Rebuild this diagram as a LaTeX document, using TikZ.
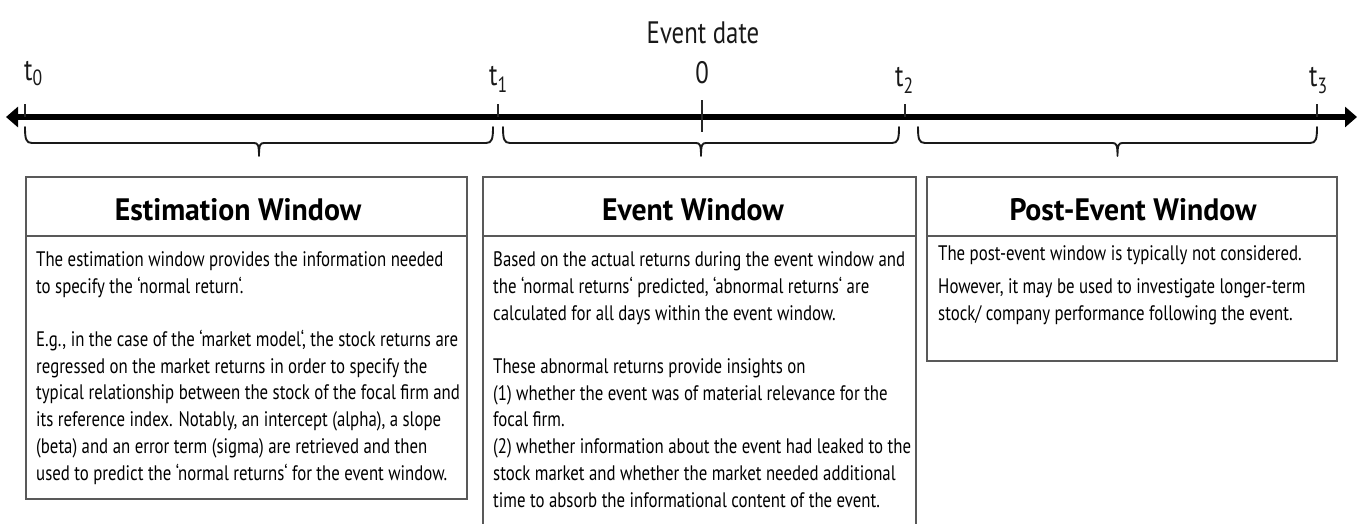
\documentclass[tikz,border=0pt]{standalone}
\usepackage{fontspec}
\setmainfont{PT Sans}[FakeStretch=0.80, BoldFeatures={FakeStretch=0.96}]
\usetikzlibrary{arrows.meta}
\newcommand{\subfnt}{\fontsize{22}{24}\selectfont}
\begin{document}
\begin{tikzpicture}[x=1pt,y=-1pt,
  lbl/.style={inner sep=0pt, anchor=base west, font=\fontsize{31}{36}\selectfont, text=black!90},
  tickmark/.style={line width=1.3pt, draw=black!85},
  brc/.style={line width=1.9pt, draw=black!90, line join=round, line cap=round},
  winbox/.style={draw=black!65, line width=1.6pt, fill=white},
  hdr/.style={inner sep=0pt, anchor=base, font=\bfseries\fontsize{31}{36}\selectfont},
  body/.style={inner sep=0pt, anchor=base west, align=left, font=\fontsize{21}{26.7}\selectfont, text=black}]
\useasboundingbox (0,0) rectangle (1363,523);
\clip (0,0) rectangle (1363,523);
% axis
\coordinate (L) at (6,117);
\coordinate (R) at (1357,117);
\coordinate (t0) at (25,117);
\coordinate (t1) at (498,117);
\coordinate (z) at (702,117);
\coordinate (t2) at (905,117);
\coordinate (t3) at (1317,117);
\draw[line width=6pt, {Triangle[length=12pt,width=20pt]}-{Triangle[length=12pt,width=20pt]}] (L) -- (R);
\draw[tickmark] (t0) -- ++(0,-13);
\draw[tickmark] (t1) -- ++(0,-13);
\draw[tickmark] (t2) -- ++(0,-13);
\draw[tickmark] (t3) -- ++(0,-13);
\draw[tickmark] ([yshift=17pt]z) -- ([yshift=-15pt]z);
% labels
\node[lbl, anchor=base] (evd) at (703,43) {Event date};
\node[lbl, anchor=base] (zl) at (702,83) {0};
\node[lbl] (l0) at (24,80) {t\raisebox{-5pt}{\subfnt 0}};
\node[lbl] (l1) at (489,85) {t\raisebox{-7pt}{\subfnt 1}};
\node[lbl] (l2) at (895,86) {t\raisebox{-7pt}{\subfnt 2}};
\node[lbl] (l3) at (1309,86) {t\raisebox{-7pt}{\subfnt 3}};
% braces
\newcommand{\mybrace}[3]{%
  \draw[brc] (#1,127) .. controls (#1,139) and (#1+1,143) .. (#1+7,143)
    -- (#2-5,143) .. controls (#2-1,143) and (#2,145) .. (#2,156)
    .. controls (#2,145) and (#2+1,143) .. (#2+5,143)
    -- (#3-7,143) .. controls (#3-1,143) and (#3,139) .. (#3,127);}
\mybrace{25}{259}{493}
\mybrace{503}{701}{899}
\mybrace{918}{1117.5}{1317}
% boxes
\node[winbox, anchor=north west, minimum width=441pt, minimum height=322pt, inner sep=0pt] (b1) at (25,176) {};
\node[winbox, anchor=north west, minimum width=433pt, minimum height=380pt, inner sep=0pt] (b2) at (482,176) {};
\node[winbox, anchor=north west, minimum width=410pt, minimum height=184pt, inner sep=0pt] (b3) at (926,176) {};
\draw[draw=black!65, line width=1.6pt] (b1.west |- 0,236) -- (b1.east |- 0,236);
\draw[draw=black!65, line width=1.6pt] (b2.west |- 0,236) -- (b2.east |- 0,236);
\draw[draw=black!65, line width=1.6pt] (b3.west |- 0,236) -- (b3.east |- 0,236);
\node[hdr] (h1) at (238,220) {Estimation Window};
\node[hdr] (h2) at (693,220) {Event Window};
\node[hdr] (h3) at (1133,220) {Post-Event Window};
\node[body] (x1) at (36,480) {The estimation window provides the information needed\\
to specify the ‘normal return‘.\\[26.7pt]
E.g., in the case of the ‘market model‘, the stock returns are\\
regressed on the market returns in order to specify the\\
typical relationship between the stock of the focal firm and\\
its reference index. Notably, an intercept (alpha), a slope\\
(beta) and an error term (sigma) are retrieved and then\\
used to predict the ‘normal returns‘ for the event window.};
\node[body] (x2) at (493,507) {Based on the actual returns during the event window and\\
the ‘normal returns‘ predicted, ‘abnormal returns‘ are\\
calculated for all days within the event window.\\[26.7pt]
These abnormal returns provide insights on\\
(1) whether the event was of material relevance for the\\
focal firm.\\
(2) whether information about the event had leaked to the\\
stock market and whether the market needed additional\\
time to absorb the informational content of the event.};
\node[body] (x3) at (938,320) {The post-event window is typically not considered.\\[6.3pt]
However, it may be used to investigate longer-term\\
stock/ company performance following the event.};
\end{tikzpicture}
\end{document}
